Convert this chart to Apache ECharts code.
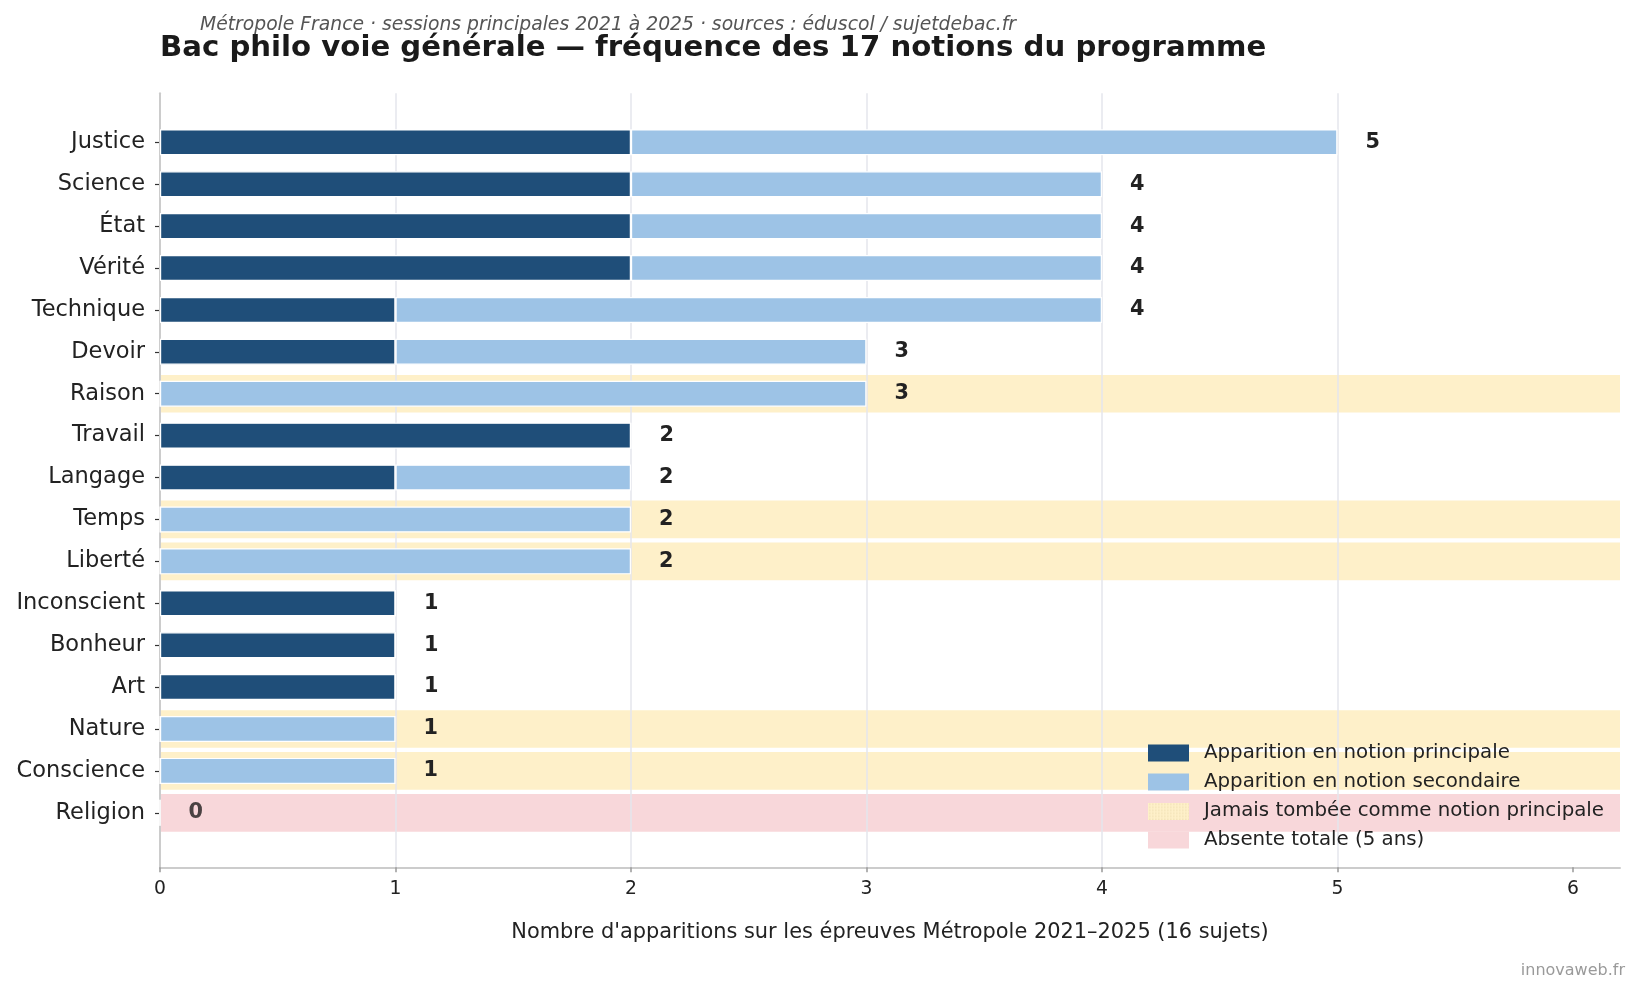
<!DOCTYPE html>
<html>
<head>
<meta charset="utf-8">
<script src="https://cdn.jsdelivr.net/npm/echarts@6/dist/echarts.min.js"></script>
<style>
html,body{margin:0;padding:0;background:#fff;}
#chart{width:1641px;height:995px;}
</style>
</head>
<body>
<div id="chart"></div>
<script>
// ---- data ----
const CATEGORIES = ['Justice','Science','État','Vérité','Technique','Devoir','Raison','Travail','Langage','Temps','Liberté','Inconscient','Bonheur','Art','Nature','Conscience','Religion'];
const PRINCIPALE = [2,2,2,2,1,1,0,2,1,0,0,1,1,1,0,0,0];
const SECONDAIRE = [3,2,2,2,3,2,3,0,1,2,2,0,0,0,1,1,0];
const X_TICKS = [0,1,2,3,4,5,6];
const X_MAX = 6.2;

const TOTALS = CATEGORIES.map((c,i)=>PRINCIPALE[i]+SECONDAIRE[i]);
const NEVER_MAIN = CATEGORIES.map((c,i)=> (PRINCIPALE[i]===0 && TOTALS[i]>0) ? X_MAX : '-');
const ABSENT = CATEGORIES.map((c,i)=> TOTALS[i]===0 ? X_MAX : '-');

const FONT = 'DejaVu Sans';
const DARK = '#1f4e79', LIGHT = '#9dc3e6', YELLOW = '#fef0c9', PINK = '#f8d7da';

// dotted legend swatch for the "never main" entry
function dottedSwatch(){
  const c = document.createElement('canvas');
  c.width = 82; c.height = 34;
  const g = c.getContext('2d');
  g.fillStyle = YELLOW; g.fillRect(0,0,82,34);
  g.fillStyle = '#d9c58f';
  for (let y = 3; y < 34; y += 6) {
    for (let x = 3; x < 82; x += 6) { g.fillRect(x, y, 1.6, 1.6); }
  }
  return 'image://' + c.toDataURL();
}

const chart = echarts.init(document.getElementById('chart'), null, {renderer:'canvas'});
const option = {
  backgroundColor:'#ffffff',
  animation:false,
  textStyle:{fontFamily:FONT},
  title:[
    {text:'Bac philo voie générale — fréquence des 17 notions du programme', left:160, top:34, padding:0,
     textStyle:{fontFamily:FONT, fontSize:29.2, fontWeight:'bold', color:'#1a1a1a'}},
    {text:'Métropole France · sessions principales 2021 à 2025 · sources : éduscol / sujetdebac.fr', left:200, top:16, padding:0,
     textStyle:{fontFamily:FONT, fontSize:18.75, fontStyle:'italic', fontWeight:'normal', color:'#555555'}},
    {text:'innovaweb.fr', right:16, top:963, padding:0,
     textStyle:{fontFamily:FONT, fontSize:16, fontWeight:'normal', color:'#9a9a9a'}}
  ],
  legend:{
    orient:'vertical', left:1148, top:743, padding:0,
    itemWidth:41, itemHeight:17, itemGap:9,
    icon:'rect',
    textStyle:{fontFamily:FONT, fontSize:19.8, color:'#222', lineHeight:20, padding:[0,0,0,10]},
    data:[
      {name:'Apparition en notion principale', itemStyle:{color:DARK, borderWidth:0}},
      {name:'Apparition en notion secondaire', itemStyle:{color:LIGHT, borderWidth:0}},
      {name:'Jamais tombée comme notion principale', icon:dottedSwatch(), itemStyle:{color:YELLOW, borderWidth:0}},
      {name:'Absente totale (5 ans)', itemStyle:{color:PINK, borderWidth:0}}
    ]
  },
  grid:[
    {left:160, right:21, top:93.3, bottom:127.7, containLabel:false},
    {left:160, right:21, top:121.35, bottom:161.25, containLabel:false}
  ],
  xAxis:[
    {gridIndex:0, type:'value', min:0, max:X_MAX, interval:1, z:2,
     name:"Nombre d'apparitions sur les épreuves Métropole 2021–2025 (16 sujets)",
     nameLocation:'middle', nameGap:55,
     nameTextStyle:{fontFamily:FONT, fontSize:20.9, color:'#222'},
     axisLine:{show:true, lineStyle:{color:'#cccccc', width:2}},
     axisTick:{show:true, length:5, customValues:X_TICKS, lineStyle:{color:'#999', width:1.5}},
     axisLabel:{show:true, margin:12, customValues:X_TICKS, fontFamily:FONT, fontSize:18.75, color:'#222'},
     splitLine:{show:true, showMinLine:false, showMaxLine:false, lineStyle:{color:'#e4e6ec', width:1.5}}
    },
    {gridIndex:1, type:'value', min:0, max:X_MAX, show:false, splitLine:{show:false}}
  ],
  yAxis:[
    {gridIndex:0, type:'value', min:0, max:1, z:2,
     axisLine:{show:true, lineStyle:{color:'#cccccc', width:2}},
     axisTick:{show:false}, axisLabel:{show:false}, splitLine:{show:false}},
    {gridIndex:1, type:'category', data:CATEGORIES, inverse:true,
     axisLine:{show:false},
     axisTick:{show:true, alignWithLabel:true, length:5, lineStyle:{color:'#333', width:1.2}},
     axisLabel:{margin:15, fontFamily:FONT, fontSize:22.5, color:'#222', padding:[2,0,0,0]},
     splitLine:{show:false}},
    {gridIndex:1, type:'category', data:CATEGORIES, inverse:true, show:false}
  ],
  series:[
    {name:'Jamais tombée comme notion principale', type:'bar', xAxisIndex:1, yAxisIndex:2,
     data:NEVER_MAIN, barWidth:'90%', barGap:'-100%', z:1, silent:true,
     itemStyle:{color:YELLOW}},
    {name:'Absente totale (5 ans)', type:'bar', xAxisIndex:1, yAxisIndex:2,
     data:ABSENT, barWidth:'90%', barGap:'-100%', z:1, silent:true,
     itemStyle:{color:PINK}},
    {name:'Apparition en notion principale', type:'bar', xAxisIndex:1, yAxisIndex:1,
     data:PRINCIPALE, stack:'n', barWidth:'62%', z:3,
     itemStyle:{color:DARK, borderColor:'#ffffff', borderWidth:1.2}},
    {name:'Apparition en notion secondaire', type:'bar', xAxisIndex:1, yAxisIndex:1,
     data:SECONDAIRE.map((v,i)=> TOTALS[i]===0 ? {value:v, label:{color:'#4a4242'}} : v),
     stack:'n', barWidth:'62%', z:3,
     itemStyle:{color:LIGHT, borderColor:'#ffffff', borderWidth:1.2},
     label:{show:true, position:'right', distance:28,
       fontFamily:FONT, fontSize:20.8, fontWeight:'bold', color:'#222',
       formatter:(p)=>String(TOTALS[p.dataIndex])}
    }
  ]
};
chart.setOption(option);
</script>
</body>
</html>
